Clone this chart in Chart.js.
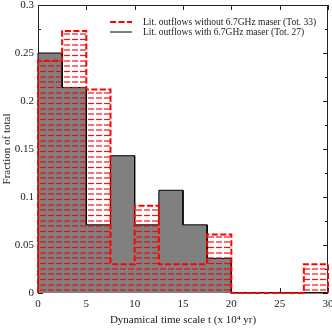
<!DOCTYPE html>
<html>
<head>
<meta charset="utf-8">
<script src="https://cdn.jsdelivr.net/npm/chart.js@4.4.0/dist/chart.umd.min.js"></script>
<style>
html, body { margin: 0; padding: 0; background: #fff; }
#wrap { width: 332px; height: 332px; }
</style>
</head>
<body>
<div id="wrap"><canvas id="histChart" width="332" height="332"></canvas></div>
<script>
// Histogram of dynamical time scales (x 10^4 yr)

const binEdges = [0, 2.5, 5, 7.5, 10, 12.5, 15, 17.5, 20, 22.5, 25, 27.5, 30];
const withoutMaser = [0.242, 0.273, 0.212, 0.030, 0.091, 0.030, 0.030, 0.061, 0, 0, 0, 0.030];
const withMaser = [0.250, 0.214, 0.071, 0.143, 0.071, 0.107, 0.071, 0.036, 0, 0, 0, 0];
const seriesLabels = [
    'Lit. outflows without 6.7GHz maser (Tot. 33)',
    'Lit. outflows with 6.7GHz maser (Tot. 27)'
];
const xMajorTicks = [0, 5, 10, 15, 20, 25, 30];
const yMajorTicks = [0, 0.05, 0.1, 0.15, 0.2, 0.25, 0.3];
const yMinorTicks = [0.025, 0.075, 0.125, 0.175, 0.225, 0.275];

const serif = '"Liberation Serif", "DejaVu Serif", serif';
const textColor = '#1a1a1a';

// Turn bin values into a closed step outline (x,y) list
function stepOutline(values) {
    const pts = [{ x: binEdges[0], y: 0 }];
    values.forEach((v, i) => {
        pts.push({ x: binEdges[i], y: v });
        pts.push({ x: binEdges[i + 1], y: v });
    });
    pts.push({ x: binEdges[binEdges.length - 1], y: 0 });
    return pts;
}

// Red dashed horizontal hatching
function makeHatch() {
    const c = document.createElement('canvas');
    c.width = 8;
    c.height = 16;
    const g = c.getContext('2d');
    g.strokeStyle = 'rgba(255,0,0,0.95)';
    g.lineWidth = 1.2;
    [2, 7.5, 13].forEach(y => {
        g.beginPath();
        g.moveTo(0, y);
        g.lineTo(6, y);
        g.stroke();
    });
    return g.createPattern(c, 'repeat');
}

// Box frame with inward ticks on all four sides
const frameTicks = {
    id: 'frameTicks',
    beforeDatasetsDraw(chart) {
        const { ctx, chartArea: a, scales: { x, y } } = chart;
        ctx.save();
        ctx.strokeStyle = '#222';
        ctx.lineWidth = 1;
        ctx.strokeRect(a.left + 0.5, a.top + 0.5, a.right - a.left - 1, a.bottom - a.top - 1);
        ctx.beginPath();
        xMajorTicks.forEach(t => {
            const px = Math.round(x.getPixelForValue(t)) + 0.5;
            ctx.moveTo(px, a.bottom);
            ctx.lineTo(px, a.bottom - 5);
            ctx.moveTo(px, a.top);
            ctx.lineTo(px, a.top + 5);
        });
        yMajorTicks.forEach(t => {
            const py = Math.round(y.getPixelForValue(t)) + 0.5;
            ctx.moveTo(a.left, py);
            ctx.lineTo(a.left + 5, py);
            ctx.moveTo(a.right, py);
            ctx.lineTo(a.right - 5, py);
        });
        yMinorTicks.forEach(t => {
            const py = Math.round(y.getPixelForValue(t)) + 0.5;
            ctx.moveTo(a.left, py);
            ctx.lineTo(a.left + 3, py);
            ctx.moveTo(a.right, py);
            ctx.lineTo(a.right - 3, py);
        });
        ctx.stroke();
        ctx.restore();
    }
};

// Legend in the upper right of the plot
const innerLegend = {
    id: 'innerLegend',
    afterDraw(chart) {
        const { ctx, chartArea: a } = chart;
        const x0 = a.left + 72;
        const y0 = a.top + 17;
        ctx.save();
        ctx.font = '9.5px ' + serif;
        ctx.textBaseline = 'middle';
        ctx.fillStyle = textColor;
        chart.data.datasets.forEach((ds, i) => {
            const yy = y0 + i * 10;
            ctx.beginPath();
            ctx.strokeStyle = ds.borderColor;
            ctx.lineWidth = ds.borderWidth;
            ctx.setLineDash(ds.borderDash || []);
            ctx.moveTo(x0, yy);
            ctx.lineTo(x0 + 22, yy);
            ctx.stroke();
            ctx.setLineDash([]);
            ctx.fillText(ds.label, x0 + 33, yy);
        });
        ctx.restore();
    }
};

const ctx = document.getElementById('histChart').getContext('2d');

new Chart(ctx, {
    type: 'line',
    data: {
        datasets: [
            {
                label: seriesLabels[0],
                data: stepOutline(withoutMaser),
                borderColor: '#ff0000',
                borderWidth: 2,
                borderDash: [6, 2.5],
                backgroundColor: makeHatch(),
                fill: 'origin',
                pointRadius: 0,
                tension: 0,
                clip: false
            },
            {
                label: seriesLabels[1],
                data: stepOutline(withMaser),
                borderColor: '#000000',
                borderWidth: 1,
                backgroundColor: '#808080',
                fill: 'origin',
                pointRadius: 0,
                tension: 0,
                clip: false
            }
        ]
    },
    options: {
        responsive: false,
        animation: false,
        devicePixelRatio: 1,
        layout: { padding: { top: 5, right: 4, left: 0, bottom: 0 } },
        plugins: {
            legend: { display: false },
            tooltip: { enabled: false }
        },
        scales: {
            x: {
                type: 'linear',
                min: 0,
                max: 30,
                afterFit: s => { s.height = 39; s.paddingLeft = 0; s.paddingRight = 0; },
                grid: { display: false, drawTicks: false },
                border: { display: false },
                ticks: {
                    stepSize: 5,
                    padding: 5,
                    maxRotation: 0,
                    color: textColor,
                    font: { family: serif, size: 11 }
                },
                title: {
                    display: true,
                    text: 'Dynamical time scale t (x 10\u2074 yr)',
                    color: textColor,
                    font: { family: serif, size: 11 },
                    padding: { top: 0, bottom: 5 }
                }
            },
            y: {
                min: 0,
                max: 0.3,
                afterFit: s => { s.width = 38; s.paddingTop = 0; s.paddingBottom = 0; },
                grid: { display: false, drawTicks: false },
                border: { display: false },
                ticks: {
                    stepSize: 0.05,
                    padding: 4,
                    color: textColor,
                    font: { family: serif, size: 11 },
                    callback: v => String(+v.toFixed(3))
                },
                title: {
                    display: true,
                    text: 'Fraction of total',
                    color: textColor,
                    font: { family: serif, size: 11 },
                    padding: { top: 1, bottom: 0 }
                }
            }
        }
    },
    plugins: [frameTicks, innerLegend]
});
</script>
</body>
</html>
